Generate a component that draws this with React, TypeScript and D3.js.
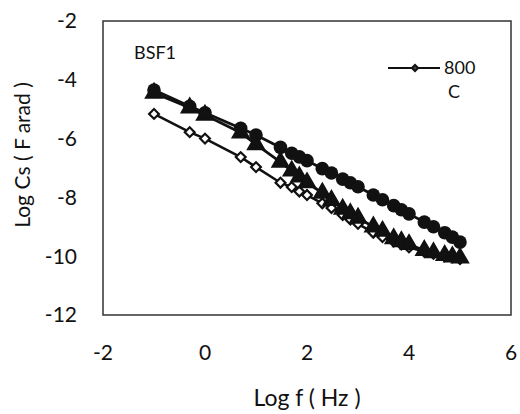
import * as d3 from "d3";

const logF = [-1, -0.3, 0, 0.7, 1, 1.48, 1.7, 1.85, 2, 2.3, 2.48, 2.7, 2.85, 3, 3.3, 3.48, 3.7, 3.85, 4, 4.3, 4.48, 4.7, 4.85, 5];

const circleSeries = [-4.35, -4.9, -5.12, -5.65, -5.88, -6.3, -6.5, -6.62, -6.75, -7.02, -7.17, -7.38, -7.5, -7.64, -7.92, -8.08, -8.28, -8.42, -8.56, -8.84, -9.0, -9.2, -9.35, -9.52];
const triangleSeries = [-4.45, -4.95, -5.2, -5.8, -6.2, -6.8, -7.1, -7.3, -7.5, -7.85, -8.1, -8.4, -8.55, -8.7, -9.0, -9.15, -9.4, -9.5, -9.6, -9.8, -9.88, -9.97, -10.02, -10.06];
const diamondSeries = [-5.16, -5.78, -6.0, -6.63, -6.97, -7.5, -7.65, -7.8, -7.92, -8.2, -8.36, -8.6, -8.75, -8.9, -9.2, -9.35, -9.5, -9.6, -9.7, -9.85, -9.92, -10.0, -10.04, -10.1];

const xTicks = [-2, 0, 2, 4, 6];
const yTicks = [-2, -4, -6, -8, -10, -12];

const legendLabel = ["800", "C"];
const sampleLabel = "BSF1";

const font = "Lato, 'Open Sans', sans-serif";

export default function App() {
  const width = 520;
  const height = 414;
  const x = d3.scaleLinear().domain([-2, 6]).range([103, 511]);
  const y = d3.scaleLinear().domain([-12, -2]).range([315, 21]);

  const line = d3
    .line<number>()
    .x((_, i) => x(logF[i]))
    .y((d) => y(d));

  const tri = d3.symbol().type(d3.symbolTriangle).size(125)() as string;
  const dia = d3.symbol().type(d3.symbolSquare).size(48)() as string;
  const legDia = d3.symbol().type(d3.symbolSquare).size(20)() as string;

  return (
    <svg
      width={width}
      height={height}
      style={{ position: "absolute", left: 0, top: 0, background: "#fff" }}
    >
      <rect x={x(-2)} y={y(-2)} width={x(6) - x(-2)} height={y(-12) - y(-2)} fill="#fff" stroke="#333" strokeWidth={1.5} />

      {yTicks.map((t) => (
        <text key={t} x={77} y={y(t)} dy="0.35em" textAnchor="end" fontFamily={font} fontSize={21} fill="#111">
          {t}
        </text>
      ))}
      {xTicks.map((t) => (
        <text key={t} x={x(t)} y={353} dy="0.35em" textAnchor="middle" fontFamily={font} fontSize={21} fill="#111">
          {t}
        </text>
      ))}
      <text x={x(2)} y={398} dy="0.35em" textAnchor="middle" fontFamily={font} fontSize={23} fill="#111">
        Log f ( Hz )
      </text>
      <text
        transform={`translate(23,155) rotate(-90)`}
        textAnchor="middle"
        dy="0.35em"
        fontFamily={font}
        fontSize={21}
        fill="#111"
      >
        Log Cs ( F arad )
      </text>

      <text x={134} y={53} dy="0.35em" fontFamily={font} fontSize={18} fill="#111">
        {sampleLabel}
      </text>

      {/* lines */}
      <path d={line(diamondSeries) || ""} fill="none" stroke="#111" strokeWidth={2.5} />
      <path d={line(triangleSeries) || ""} fill="none" stroke="#111" strokeWidth={2.8} />
      <path d={line(circleSeries) || ""} fill="none" stroke="#111" strokeWidth={2.8} />

      {/* markers */}
      {diamondSeries.map((v, i) => (
        <path key={"d" + i} d={dia} transform={`translate(${x(logF[i])},${y(v)}) rotate(45)`} fill="#fff" stroke="#111" strokeWidth={2.2} />
      ))}
      {triangleSeries.map((v, i) => (
        <path key={"t" + i} d={tri} transform={`translate(${x(logF[i])},${y(v)})`} fill="#111" stroke="#111" strokeWidth={1.5} />
      ))}
      {circleSeries.map((v, i) => (
        <circle key={"c" + i} cx={x(logF[i])} cy={y(v)} r={6.8} fill="#111" />
      ))}

      {/* legend */}
      <line x1={388} x2={440} y1={68} y2={68} stroke="#111" strokeWidth={2.2} />
      <path d={legDia} transform="translate(415,68) rotate(45)" fill="#444" stroke="#111" strokeWidth={2} />
      <text x={444} y={68} dy="0.35em" fontFamily={font} fontSize={18} fill="#111">
        {legendLabel[0]}
      </text>
      <text x={448} y={92} dy="0.35em" fontFamily={font} fontSize={18} fill="#111">
        {legendLabel[1]}
      </text>
    </svg>
  );
}
